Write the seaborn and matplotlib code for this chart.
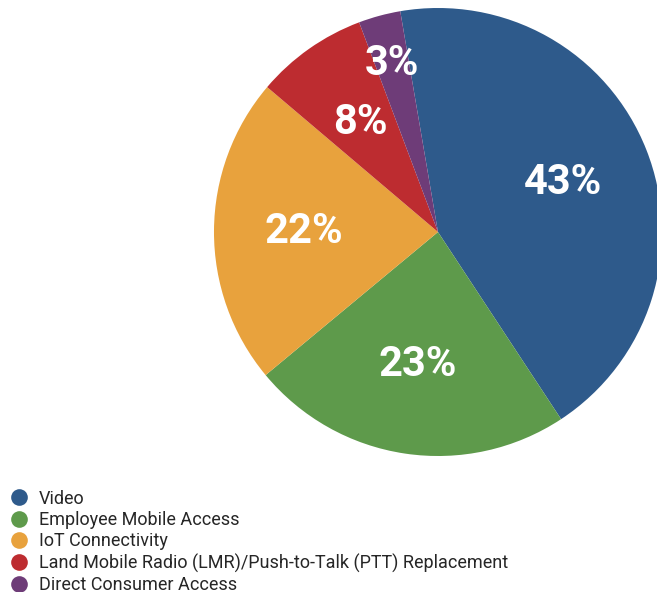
import matplotlib
matplotlib.use("Agg")
import matplotlib.pyplot as plt
from matplotlib.lines import Line2D
import numpy as np
import seaborn as sns

# Data
segments = ["Video", "Employee Mobile Access", "IoT Connectivity",
            "Land Mobile Radio (LMR)/Push-to-Talk (PTT) Replacement",
            "Direct Consumer Access"]
shares = [43, 23, 22, 8, 3]
colors = ["#2e5a8b", "#5e9a4b", "#e8a23d", "#bd2c30", "#6e3c78"]

sns.set_theme(style="white")
plt.rcParams["font.family"] = ["Roboto", "DejaVu Sans"]

fig = plt.figure(figsize=(6.57, 5.92), dpi=100)
ax = fig.add_axes([0.3257, 0.2297, 0.6819, 0.7568])

wedges, texts, autotexts = ax.pie(
    shares, colors=colors, startangle=99.7, counterclock=False,
    autopct="%d%%", pctdistance=0.6,
    wedgeprops=dict(linewidth=0),
    textprops=dict(color="white", fontsize=30, fontweight="bold"),
)

# the tiny slice has its label pushed further out
w = wedges[-1]
mid = np.deg2rad((w.theta1 + w.theta2) / 2)
autotexts[-1].set_position((0.78 * np.cos(mid), 0.78 * np.sin(mid)))

ax.set_xlim(-1, 1)
ax.set_ylim(-1, 1)
ax.axis("off")

handles = [Line2D([0], [0], marker="o", linestyle="", markersize=12,
                  markerfacecolor=c, markeredgewidth=0) for c in colors]
fig.legend(handles, segments, loc="upper left", bbox_to_anchor=(0.015, 0.173),
           frameon=False, fontsize=13, handlelength=1, handletextpad=0.6,
           labelspacing=0.19, borderpad=0, borderaxespad=0)

fig.savefig("out.png", dpi=100)
